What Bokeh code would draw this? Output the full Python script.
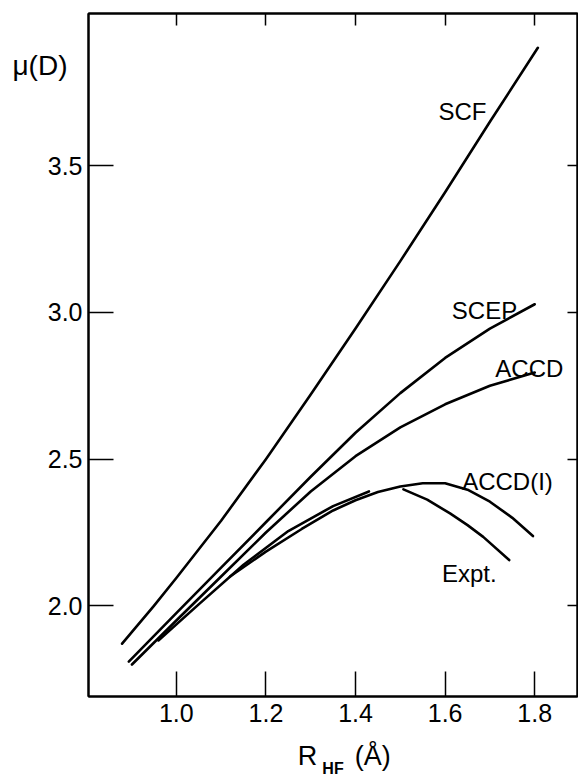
from bokeh.plotting import figure
from bokeh.models import (Range1d, LinearAxis, FixedTicker, Label, NumeralTickFormatter,
                          CustomJSTickFormatter)
from bokeh.embed import file_html
from bokeh.resources import INLINE

# ---- data ----
x_ticks = [1.0, 1.2, 1.4, 1.6, 1.8]
y_ticks = [2.0, 2.5, 3.0, 3.5]

scf_x = [0.879, 0.95, 1.0, 1.1, 1.2, 1.3, 1.4, 1.5, 1.6, 1.7, 1.807]
scf_y = [1.871, 2.0, 2.095, 2.29, 2.50, 2.72, 2.945, 3.175, 3.41, 3.65, 3.902]

scep_x = [0.894, 1.0, 1.1, 1.2, 1.3, 1.4, 1.5, 1.6, 1.7, 1.8]
scep_y = [1.81, 1.975, 2.13, 2.285, 2.44, 2.59, 2.725, 2.845, 2.945, 3.028]

accd_x = [0.901, 1.0, 1.1, 1.2, 1.3, 1.4, 1.5, 1.6, 1.7, 1.8]
accd_y = [1.80, 1.95, 2.10, 2.25, 2.39, 2.51, 2.608, 2.687, 2.75, 2.795]

branch_x = [0.96, 1.05, 1.15, 1.25, 1.35, 1.43]
branch_y = [1.882, 2.005, 2.14, 2.255, 2.34, 2.39]

accdi_x = [1.12, 1.2, 1.28, 1.35, 1.4, 1.45, 1.5, 1.55, 1.6, 1.65, 1.7, 1.75, 1.796]
accdi_y = [2.10, 2.185, 2.262, 2.325, 2.36, 2.388, 2.407, 2.418, 2.418, 2.396, 2.355, 2.30, 2.238]

expt_x = [1.507, 1.56, 1.611, 1.65, 1.685, 1.743]
expt_y = [2.397, 2.362, 2.315, 2.275, 2.235, 2.156]

curve_labels = ["SCF", "SCEP", "ACCD", "ACCD(I)", "Expt."]
y_title = "\u03bc(D)"
x_title_main = "R"
x_title_sub = "HF"
x_title_unit = "(\u00c5)"

FONT = "Liberation Sans"
NB = "\u00a0"

p = figure(width=578, height=783, output_backend="svg", toolbar_location=None,
           x_range=Range1d(0.804, 1.8955), y_range=Range1d(1.691, 4.019),
           min_border_left=88, min_border_right=1, min_border_top=13, min_border_bottom=87)
p.background_fill_color = "white"
p.border_fill_color = "white"
p.grid.visible = False
p.outline_line_color = "black"
p.outline_line_width = 2

for ax, ticks in ((p.xaxis[0], x_ticks), (p.yaxis[0], y_ticks)):
    ax.ticker = FixedTicker(ticks=ticks)
    ax.formatter = NumeralTickFormatter(format="0.0")
    ax.major_tick_in = 25
    ax.major_tick_out = 0
    ax.minor_tick_in = 0
    ax.minor_tick_out = 0
    ax.major_tick_line_width = 1.5
    ax.major_tick_line_color = "black"
    ax.axis_line_width = 2
    ax.axis_line_color = "black"
    ax.major_label_text_font = FONT
    ax.major_label_text_font_size = "25px"
    ax.major_label_text_color = "black"
p.xaxis.major_label_standoff = 7
p.yaxis.major_label_standoff = 6

# x-axis title: "R (Å)" on the main axis, subscript "HF" on a second, label-only axis
xax = p.xaxis[0]
xax.axis_label = NB * 3 + x_title_main + NB * 5 + x_title_unit
xax.axis_label_text_font = FONT
xax.axis_label_text_font_size = "27px"
xax.axis_label_text_font_style = "normal"
xax.axis_label_text_color = "black"
xax.axis_label_standoff = 16

sub = LinearAxis(ticker=FixedTicker(ticks=[]), major_label_text_font_size="0px",
                 major_tick_in=0, major_tick_out=0, minor_tick_in=0, minor_tick_out=0,
                 major_label_standoff=0, axis_line_color=None,
                 axis_label=x_title_sub, axis_label_text_font=FONT,
                 axis_label_text_font_size="16px", axis_label_text_font_style="bold",
                 axis_label_text_color="black", axis_label_standoff=-14)
p.add_layout(sub, "below")

# y-axis title: a horizontal tick label of an extra, line-less left axis
ytitle_axis = LinearAxis(ticker=FixedTicker(ticks=[3.843]),
                         formatter=CustomJSTickFormatter(code="return '%s'" % y_title),
                         major_tick_in=0, major_tick_out=0, minor_tick_in=0, minor_tick_out=0,
                         axis_line_color=None, major_label_standoff=-23,
                         major_label_text_font=FONT, major_label_text_font_size="28px",
                         major_label_text_color="black")
p.add_layout(ytitle_axis, "left")

top = LinearAxis(ticker=FixedTicker(ticks=x_ticks), formatter=CustomJSTickFormatter(code="return ''"),
                 major_label_text_font_size="1px",
                 major_tick_in=12, major_tick_out=0, minor_tick_in=0, minor_tick_out=0,
                 major_label_standoff=0, axis_line_width=2, major_tick_line_width=1.5)
right = LinearAxis(ticker=FixedTicker(ticks=y_ticks), formatter=CustomJSTickFormatter(code="return ''"),
                   major_label_text_font_size="1px",
                   major_tick_in=10, major_tick_out=0, minor_tick_in=0, minor_tick_out=0,
                   major_label_standoff=0, axis_line_width=2, major_tick_line_width=1.5)
p.add_layout(top, "above")
p.add_layout(right, "right")

LW = 2.6
for xs, ys in ((scf_x, scf_y), (scep_x, scep_y), (accd_x, accd_y),
               (branch_x, branch_y), (accdi_x, accdi_y), (expt_x, expt_y)):
    p.line(xs, ys, line_color="black", line_width=LW, line_cap="round", line_join="round")

# curve labels
label_pos = [(1.585, 3.684), (1.615, 3.008), (1.712, 2.809), (1.638, 2.424), (1.593, 2.111)]
for txt, (lx, ly) in zip(curve_labels, label_pos):
    p.add_layout(Label(x=lx, y=ly, text=txt, text_font=FONT, text_font_size="24px",
                       text_color="black", text_baseline="alphabetic", text_align="left"))

open("out.html", "w").write(file_html(p, INLINE))
